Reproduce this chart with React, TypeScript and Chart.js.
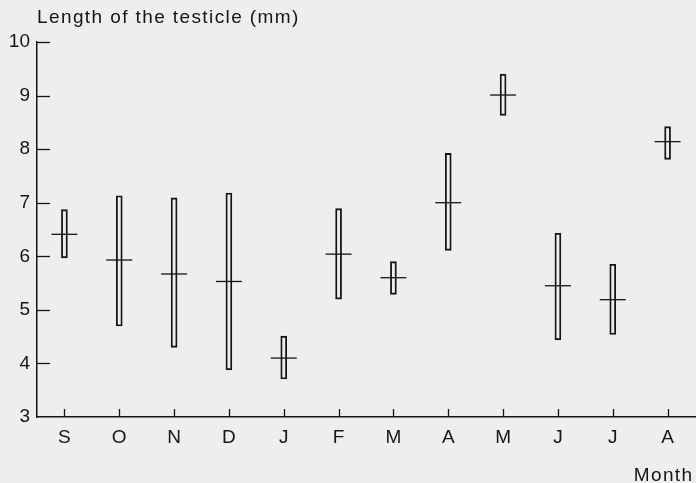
import React, { useEffect, useRef } from "react";
import { Chart, registerables } from "chart.js";

Chart.register(...registerables);

const months = ["S", "O", "N", "D", "J", "F", "M", "A", "M", "J", "J", "A"];
const minVals = [5.97, 4.7, 4.3, 3.88, 3.71, 5.2, 5.29, 6.11, 8.63, 4.44, 4.54, 7.81];
const maxVals = [6.87, 7.13, 7.09, 7.18, 4.51, 6.89, 5.9, 7.92, 9.4, 6.43, 5.85, 8.42];
const meanVals = [6.41, 5.93, 5.67, 5.53, 4.1, 6.04, 5.6, 7.0, 9.01, 5.45, 5.19, 8.14];
const yTitle = "Length of the testicle (mm)";
const xTitle = "Month";
const yMin = 3;
const yMax = 10;

const FONT = "'Liberation Sans', Arial, sans-serif";
const INK = "#151515";

const decorPlugin = {
  id: "decor",
  afterDraw(chart: any) {
    const ctx = chart.ctx;
    const area = chart.chartArea;
    const ys = chart.scales.y;
    const xs = chart.scales.x;
    ctx.save();
    ctx.strokeStyle = INK;
    ctx.lineWidth = 1.3;
    // inward ticks on y axis
    ys.ticks.forEach((t: any) => {
      const y = Math.round(ys.getPixelForValue(t.value)) + 0.5;
      if (t.value === yMin) return;
      ctx.beginPath();
      ctx.moveTo(area.left, y);
      ctx.lineTo(area.left + 13, y);
      ctx.stroke();
    });
    // inward ticks on x axis
    months.forEach((_m, i) => {
      const x = Math.round(xs.getPixelForValue(i)) + 0.5;
      ctx.beginPath();
      ctx.moveTo(x, area.bottom);
      ctx.lineTo(x, area.bottom - 8);
      ctx.stroke();
    });
    // titles
    ctx.fillStyle = INK;
    ctx.font = `19px ${FONT}`;
    (ctx as any).letterSpacing = "1.4px";
    ctx.textBaseline = "alphabetic";
    ctx.textAlign = "left";
    ctx.fillText(yTitle, area.left, 23);
    ctx.textAlign = "right";
    ctx.fillText(xTitle, 693.5, 481);
    ctx.restore();
  },
};

export default function App() {
  const ref = useRef<HTMLCanvasElement | null>(null);
  useEffect(() => {
    if (!ref.current) return;
    const chart = new Chart(ref.current, {
      data: {
        labels: months,
        datasets: [
          {
            type: "bar",
            data: months.map((_m, i) => [minVals[i], maxVals[i]]) as any,
            barThickness: 6,
            borderWidth: 1.2,
            borderColor: INK,
            borderSkipped: false,
            backgroundColor: "rgba(0,0,0,0)",
          } as any,
          {
            type: "line",
            data: meanVals,
            showLine: false,
            clip: false,
            pointStyle: "line",
            pointRadius: 13,
            pointHoverRadius: 13,
            pointBorderWidth: 1.3,
            pointBorderColor: INK,
            borderColor: INK,
          } as any,
        ],
      },
      options: {
        animation: false,
        responsive: false,
        maintainAspectRatio: false,
        events: [],
        layout: { autoPadding: false, padding: { top: 42, right: 1, left: 0, bottom: 0 } },
        plugins: { legend: { display: false }, tooltip: { enabled: false } },
        scales: {
          x: {
            type: "category",
            offset: true,
            grid: { display: false, drawTicks: false },
            border: { display: true, color: INK, width: 1.5 },
            ticks: { color: INK, font: { family: FONT, size: 19 }, padding: 9 },
            afterFit: (s: any) => {
              s.height = 66;
              s.paddingLeft = 0;
              s.paddingRight = 0;
            },
          },
          y: {
            min: yMin,
            max: yMax,
            grid: { display: false, drawTicks: false },
            border: { display: true, color: INK, width: 1.5 },
            ticks: { stepSize: 1, color: INK, font: { family: FONT, size: 19 }, padding: 7 },
            afterFit: (s: any) => {
              s.width = 37;
            },
          },
        },
      } as any,
      plugins: [decorPlugin],
    });
    return () => chart.destroy();
  }, []);
  return (
    <div style={{ position: "fixed", left: 0, top: 0, width: 696, height: 483, background: "#eeeeee" }}>
      <canvas ref={ref} width={696} height={483} style={{ display: "block" }} />
    </div>
  );
}
